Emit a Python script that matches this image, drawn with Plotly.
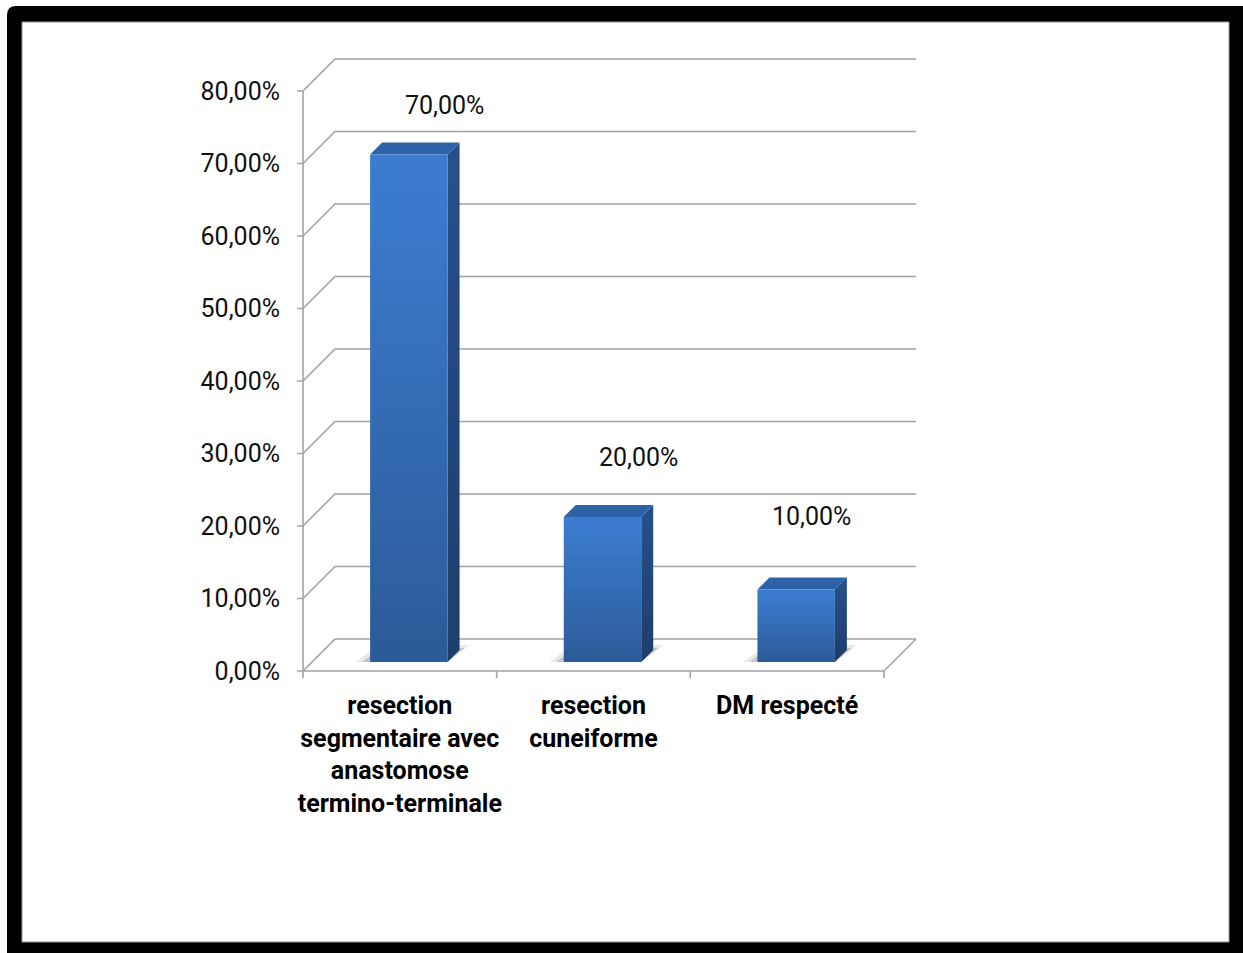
import plotly.graph_objects as go

# ---------------- data ----------------
categories = [
    "resection<br>segmentaire avec<br>anastomose<br>termino-terminale",
    "resection<br>cuneiforme",
    "DM respecté",
]
values = [70, 20, 10]
value_labels = ["70,00%", "20,00%", "10,00%"]
y_ticks = [0, 10, 20, 30, 40, 50, 60, 70, 80]
y_tick_labels = ["0,00%", "10,00%", "20,00%", "30,00%", "40,00%",
                 "50,00%", "60,00%", "70,00%", "80,00%"]

# ---------------- geometry / style ----------------
W, H = 1243, 953
PX_X = 581 / 3.0      # pixels per category unit
PY = 580 / 80.0       # pixels per percent
DEPTH = 32            # depth of the 3D box (px)
BAR_FRONT = 9         # depth position of bar front face (px)
BAR_DEPTH = 12        # bar thickness in depth (px)
BAR_W = 0.4           # bar width in category units
PADL, PADB, PADR, PADT = 8, 8, 4, 4
NUM_FONT = dict(family="Roboto, DejaVu Sans", size=25, color="#111111")


def dx(px):
    return px / PX_X


def dy(px):
    return px / PY


x0 = -0.5
xN = len(categories) - 0.5
ymax = y_ticks[-1]

x_range = [x0 - dx(PADL), xN + dx(DEPTH + PADR)]
y_range = [-dy(PADB), ymax + dy(DEPTH + PADT)]

plot_left = 303 - PADL
plot_right = 916 + PADR
plot_top = 59 - PADT
plot_bottom = 671 + PADB


def pxx(p):
    return (p - plot_left) / (plot_right - plot_left)


def pxy(p):
    return (plot_bottom - p) / (plot_bottom - plot_top)


GRID = "#A3A3A3"
fig = go.Figure()

# gridlines (back wall + left wall diagonals) with tick stubs
gx, gy = [], []
for v in y_ticks:
    gx += [x0 - dx(6), x0, x0 + dx(DEPTH), xN + dx(DEPTH), None]
    gy += [v, v, v + dy(DEPTH), v + dy(DEPTH), None]
fig.add_trace(go.Scatter(x=gx, y=gy, mode="lines",
                         line=dict(color=GRID, width=1.6), hoverinfo="skip"))

# front axis lines
fig.add_trace(go.Scatter(x=[x0, x0, None, x0, xN, xN + dx(DEPTH)],
                         y=[ymax, 0, None, 0, 0, dy(DEPTH)],
                         mode="lines", line=dict(color=GRID, width=1.6),
                         hoverinfo="skip"))

# category boundary ticks
tx, ty = [], []
for i in range(len(categories) + 1):
    b = x0 + i
    tx += [b, b, None]
    ty += [0, -dy(7), None]
fig.add_trace(go.Scatter(x=tx, y=ty, mode="lines",
                         line=dict(color=GRID, width=1.6), hoverinfo="skip"))

# bars
fdx, fdy = dx(BAR_FRONT), dy(BAR_FRONT)
bdx, bdy = dx(BAR_DEPTH), dy(BAR_DEPTH)
for i, v in enumerate(values):
    xl = i - BAR_W / 2 + fdx
    xr = i + BAR_W / 2 + fdx
    yb = fdy
    yt = v + fdy
    # soft floor shadow (two layers)
    fig.add_trace(go.Scatter(
        x=[xl - dx(14), xr, xr + bdx + dx(10), xl + bdx - dx(4), xl - dx(14)],
        y=[yb, yb, yb + bdy + dy(5), yb + bdy + dy(5), yb],
        mode="lines", line=dict(width=0), fill="toself",
        fillcolor="rgba(110,110,110,0.15)", hoverinfo="skip"))
    fig.add_trace(go.Scatter(
        x=[xl - dx(8), xr, xr + bdx + dx(5), xl + bdx - dx(1), xl - dx(8)],
        y=[yb, yb, yb + bdy + dy(2), yb + bdy + dy(2), yb],
        mode="lines", line=dict(width=0), fill="toself",
        fillcolor="rgba(90,90,90,0.25)", hoverinfo="skip"))
    # side face
    fig.add_trace(go.Scatter(
        x=[xr, xr, xr + bdx, xr + bdx, xr],
        y=[yb, yt, yt + bdy, yb + bdy, yb],
        mode="lines", line=dict(width=0), fill="toself",
        fillgradient=dict(type="vertical",
                          colorscale=[[0, "#1E3E6B"], [1, "#27508A"]]),
        hoverinfo="skip"))
    # top face
    fig.add_trace(go.Scatter(
        x=[xl, xr, xr + bdx, xl + bdx, xl],
        y=[yt, yt, yt + bdy, yt + bdy, yt],
        mode="lines", line=dict(width=0), fill="toself",
        fillcolor="#2E62A6", hoverinfo="skip"))
    # front face
    fig.add_trace(go.Scatter(
        x=[xl, xr, xr, xl, xl],
        y=[yb, yb, yt, yt, yb],
        mode="lines", line=dict(width=0), fill="toself",
        fillgradient=dict(type="vertical",
                          colorscale=[[0, "#2C5A98"], [1, "#3C7DD1"]]),
        hoverinfo="skip"))

# data labels
label_offsets = [(45, 58), (45, 69), (24, 82)]
for i, (v, t) in enumerate(zip(values, value_labels)):
    fig.add_annotation(x=i, y=v, xref="x", yref="y", text=t, showarrow=False,
                       xshift=label_offsets[i][0], yshift=label_offsets[i][1],
                       font=NUM_FONT)

# frame


def P(x, y):
    return f"{pxx(x):.5f},{pxy(y):.5f}"


outer = (f"M {P(7, 15)} Q {P(7, 6)} {P(16, 6)} L {P(1243, 6)} "
         f"L {P(1243, 953)} L {P(7, 953)} Z")
fig.add_shape(type="path", path=outer, xref="paper", yref="paper",
              fillcolor="black", line=dict(width=0), layer="below")
fig.add_shape(type="rect", xref="paper", yref="paper",
              x0=pxx(22), x1=pxx(1229), y0=pxy(942), y1=pxy(22),
              fillcolor="white", line=dict(color="#9A9A9A", width=1),
              layer="below")

fig.update_layout(
    width=W, height=H,
    margin=dict(l=plot_left, r=W - plot_right, t=plot_top, b=H - plot_bottom,
                pad=0),
    paper_bgcolor="white",
    plot_bgcolor="rgba(0,0,0,0)",
    showlegend=False,
    xaxis=dict(range=x_range, showgrid=False, zeroline=False, showline=False,
               tickvals=list(range(len(categories))), ticktext=categories,
               ticks="", ticklabelstandoff=9,
               tickfont=dict(family="Roboto, Liberation Sans", size=25,
                             color="black", weight="bold"),
               fixedrange=True),
    yaxis=dict(range=y_range, showgrid=False, zeroline=False, showline=False,
               tickvals=y_ticks, ticktext=y_tick_labels, ticks="",
               ticklabelstandoff=14, tickfont=NUM_FONT,
               fixedrange=True),
)

fig.write_html("out.html")
